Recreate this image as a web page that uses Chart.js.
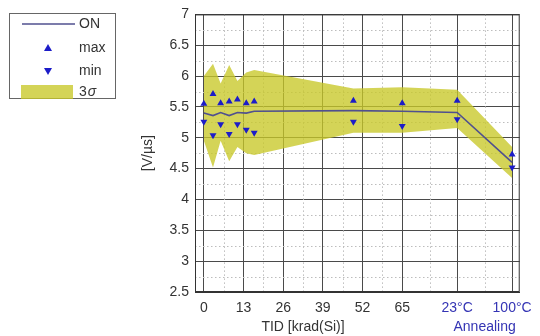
<!DOCTYPE html>
<html>
<head>
<meta charset="utf-8">
<script src="https://cdn.jsdelivr.net/npm/chart.js@4/dist/chart.umd.min.js"></script>
<style>
    body { margin: 0; background: #fff; }
    #wrap { width: 540px; height: 336px; }
</style>
</head>
<body>
<div id="wrap"><canvas id="slewChart"></canvas></div>
<script>
// TID steps, then the two annealing steps placed after 65 krad
const doses = [0, 3, 5.5, 8.3, 11, 13.9, 16.5, 49, 65, 83, 101];
const onMean = [5.40, 5.36, 5.41, 5.36, 5.41, 5.40, 5.43, 5.44, 5.43, 5.41, 4.60];
const maxVals = [5.55, 5.71, 5.56, 5.59, 5.62, 5.56, 5.59, 5.60, 5.56, 5.60, 4.73];
const minVals = [5.26, 5.04, 5.22, 5.06, 5.22, 5.13, 5.08, 5.26, 5.19, 5.30, 4.52];
const sigmaHigh = [6.00, 6.20, 5.88, 6.18, 5.92, 6.06, 6.10, 5.80, 5.82, 5.78, 4.85];
const sigmaLow = [4.95, 4.52, 4.95, 4.62, 4.85, 4.75, 4.72, 5.08, 5.08, 5.16, 4.35];

const tickValues = [0, 13, 26, 39, 52, 65, 83, 101];
const tickLabels = ['0', '13', '26', '39', '52', '65', '23°C', '100°C'];

const FONT = 'Liberation Sans, Arial, sans-serif';
const TEXT = '#333';
const ANNEAL = '#3434b4';
const MARK = '#1c1cc8';
const LINE = '#50508f';
const BAND = 'rgba(200, 200, 40, 0.78)';

const pts = (ys) => doses.map((x, i) => ({ x: x, y: ys[i] }));

// dotted minor grid halfway between the major lines
const minorGrid = {
    id: 'minorGrid',
    beforeDatasetsDraw(chart) {
        const { ctx, chartArea: a, scales: { x, y } } = chart;
        ctx.save();
        ctx.strokeStyle = '#bdbdbd';
        ctx.lineWidth = 1;
        ctx.setLineDash([1.5, 2.5]);
        for (let i = 0; i < x.ticks.length - 1; i++) {
            const px = Math.round(x.getPixelForValue((x.ticks[i].value + x.ticks[i + 1].value) / 2)) + 0.5;
            ctx.beginPath();
            ctx.moveTo(px, a.top);
            ctx.lineTo(px, a.bottom);
            ctx.stroke();
        }
        for (let i = 0; i < y.ticks.length - 1; i++) {
            const py = Math.round(y.getPixelForValue((y.ticks[i].value + y.ticks[i + 1].value) / 2)) + 0.5;
            ctx.beginPath();
            ctx.moveTo(a.left, py);
            ctx.lineTo(a.right, py);
            ctx.stroke();
        }
        ctx.restore();
    }
};

// frame, axis captions and the boxed legend
const decorations = {
    id: 'decorations',
    afterDraw(chart) {
        const { ctx, chartArea: a, scales: { x } } = chart;
        ctx.save();
        ctx.strokeStyle = '#333';
        ctx.lineWidth = 1;
        ctx.strokeRect(a.left + 0.5, a.top + 0.5, a.right - a.left - 1, a.bottom - a.top - 1);

        ctx.font = '14px ' + FONT;
        ctx.textAlign = 'center';
        ctx.textBaseline = 'middle';
        ctx.fillStyle = TEXT;
        ctx.fillText('TID [krad(Si)]', (x.getPixelForValue(0) + x.getPixelForValue(65)) / 2, 327);
        ctx.fillStyle = ANNEAL;
        ctx.fillText('Annealing', (x.getPixelForValue(83) + x.getPixelForValue(101)) / 2, 327);

        // legend
        ctx.strokeStyle = '#666';
        ctx.strokeRect(9.5, 13.5, 106, 85);
        ctx.textAlign = 'left';
        ctx.fillStyle = TEXT;
        const ds = chart.data.datasets;
        const rows = [24, 48, 71, 92];
        ctx.strokeStyle = ds[2].borderColor;
        ctx.lineWidth = ds[2].borderWidth;
        ctx.beginPath();
        ctx.moveTo(22, rows[0]);
        ctx.lineTo(75, rows[0]);
        ctx.stroke();
        ctx.fillStyle = MARK;
        ctx.beginPath();
        ctx.moveTo(48, rows[1] - 4);
        ctx.lineTo(52, rows[1] + 3);
        ctx.lineTo(44, rows[1] + 3);
        ctx.fill();
        ctx.beginPath();
        ctx.moveTo(48, rows[2] + 4);
        ctx.lineTo(52, rows[2] - 3);
        ctx.lineTo(44, rows[2] - 3);
        ctx.fill();
        ctx.fillStyle = ds[3].backgroundColor;
        ctx.fillRect(21, rows[3] - 7, 52, 14);
        ctx.fillStyle = TEXT;
        ctx.fillText(ds[2].label, 79, rows[0]);
        ctx.fillText(ds[0].label, 79, rows[1]);
        ctx.fillText(ds[1].label, 79, rows[2]);
        ctx.fillText('3', 79, rows[3]);
        ctx.font = 'italic 14px ' + FONT;
        ctx.fillText('σ', 79 + ctx.measureText('3').width + 1, rows[3]);
        ctx.restore();
    }
};

const ctx = document.getElementById('slewChart').getContext('2d');

new Chart(ctx, {
    type: 'scatter',
    data: {
        datasets: [
            {
                label: 'max',
                data: pts(maxVals),
                pointStyle: 'triangle',
                pointRadius: 4,
                backgroundColor: MARK,
                borderColor: MARK,
                borderWidth: 0,
                order: 0
            },
            {
                label: 'min',
                data: pts(minVals),
                pointStyle: 'triangle',
                rotation: 180,
                pointRadius: 4,
                backgroundColor: MARK,
                borderColor: MARK,
                borderWidth: 0,
                order: 1
            },
            {
                label: 'ON',
                data: pts(onMean),
                showLine: true,
                borderColor: LINE,
                borderWidth: 1.6,
                pointRadius: 0,
                tension: 0,
                order: 2
            },
            {
                label: '3σ',
                data: pts(sigmaHigh),
                showLine: true,
                fill: '+1',
                backgroundColor: BAND,
                borderWidth: 0,
                pointRadius: 0,
                order: 3
            },
            {
                label: '3σ low',
                data: pts(sigmaLow),
                showLine: true,
                borderWidth: 0,
                pointRadius: 0,
                order: 4
            }
        ]
    },
    options: {
        responsive: true,
        maintainAspectRatio: false,
        animation: false,
        layout: {
            padding: { left: 134, right: 16, top: 13, bottom: 0 }
        },
        plugins: {
            legend: { display: false },
            tooltip: { enabled: false }
        },
        scales: {
            x: {
                type: 'linear',
                min: -2.9,
                max: 103.5,
                afterBuildTicks: (scale) => {
                    scale.ticks = tickValues.map(v => ({ value: v }));
                },
                afterFit: (scale) => { scale.height = 44; },
                ticks: {
                    callback: (value, index) => tickLabels[index],
                    color: (c) => (c.tick && c.tick.value > 65 ? ANNEAL : TEXT),
                    font: { family: FONT, size: 14 },
                    padding: 8,
                    maxRotation: 0
                },
                grid: { color: '#4a4a4a', lineWidth: 1, drawTicks: false },
                border: { color: '#333' }
            },
            y: {
                min: 2.5,
                max: 7,
                afterFit: (scale) => { scale.width = 61; },
                ticks: {
                    stepSize: 0.5,
                    callback: (value) => String(Math.round(value * 10) / 10),
                    color: TEXT,
                    font: { family: FONT, size: 14 },
                    padding: 6
                },
                title: {
                    display: true,
                    text: '[V/µs]',
                    color: TEXT,
                    font: { family: FONT, size: 14 },
                    padding: { top: 6, bottom: 0 }
                },
                grid: { color: '#4a4a4a', lineWidth: 1, drawTicks: false },
                border: { color: '#333' }
            }
        }
    },
    plugins: [minorGrid, decorations]
});
</script>
</body>
</html>
